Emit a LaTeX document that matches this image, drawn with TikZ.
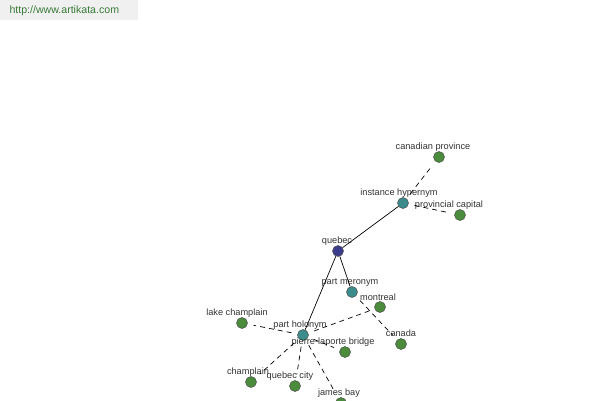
\documentclass[tikz,border=0pt]{standalone}
\usepackage{fontspec}
\setmainfont{Liberation Sans}
\usepackage{tikz}

\definecolor{leafgreen}{HTML}{4A8C3C}
\definecolor{relteal}{HTML}{3C8C8C}
\definecolor{rootblue}{HTML}{3C3C8C}
\definecolor{labgray}{HTML}{333333}
\definecolor{sitegreen}{HTML}{3A7A3A}

\tikzset{
  word/.style={circle, draw=black!70, line width=0.5pt, minimum size=11pt, inner sep=0pt},
  leaf/.style={word, fill=leafgreen},
  rel/.style={word, fill=relteal},
  root/.style={word, fill=rootblue},
  lab/.style={font=\fontsize{9.2}{10}\selectfont, text=labgray, inner sep=0.5pt, label distance=-1pt},
  solidlink/.style={draw=black, line width=0.7pt},
  dashlink/.style={draw=black, line width=0.7pt, dash pattern=on 5pt off 4pt, shorten <=6pt, shorten >=6pt}
}

\begin{document}
\begin{tikzpicture}[x=1pt,y=-1pt]
\useasboundingbox (0,0) rectangle (600,400);

% site banner
\fill[black!6] (0,0) rectangle (138,20);
\node [anchor=west, font=\fontsize{10.6}{12}\selectfont, text=sitegreen] (site) at (6,10.5) {http://www.artikata.com};

% centre word
\node [root, label={[lab,xshift=-1pt]above:quebec}] (quebec) at (338,251) {};

% relation nodes
\node [rel, label={[lab,xshift=-4pt]above:instance hypernym}] (hyper) at (403,203) {};
\node [rel, label={[lab,xshift=-2pt]above:part meronym}] (meronym) at (352,292) {};
\node [rel, label={[lab,xshift=-3pt]above:part holonym}] (holonym) at (303,335) {};

% related words
\node [leaf, label={[lab,xshift=-6pt]above:canadian province}] (province) at (439,157) {};
\node [leaf, label={[lab,xshift=-11pt]above:provincial capital}] (capital) at (460,215) {};
\node [leaf, label={[lab,xshift=-2pt,yshift=1pt]above:montreal}] (montreal) at (380,307) {};
\node [leaf, label={[lab,yshift=1.5pt]above:canada}] (canada) at (401,344) {};
\node [leaf, label={[lab,xshift=-5pt]above:lake champlain}] (lake) at (242,323) {};
\node [leaf, label={[lab,xshift=-12pt]above:pierre-laporte bridge}] (bridge) at (345,352) {};
\node [leaf, label={[lab,xshift=-3pt]above:champlain}] (champlain) at (251,382) {};
\node [leaf, label={[lab,xshift=-5pt]above:quebec city}] (qcity) at (295,386) {};
\node [leaf, label={[lab,xshift=-2pt]above:james bay}] (jbay) at (341,403) {};

% links
\foreach \rel in {hyper, meronym, holonym}{
    \draw[solidlink] (quebec) -- (\rel);
}
\draw[dashlink] (hyper) -- (province);
\draw[dashlink] (hyper) -- (capital);
\draw[dashlink] (meronym) -- (canada);
\foreach \wd in {montreal, lake, bridge, champlain, qcity, jbay}{
    \draw[dashlink] (holonym) -- (\wd);
}

\end{tikzpicture}
\end{document}
